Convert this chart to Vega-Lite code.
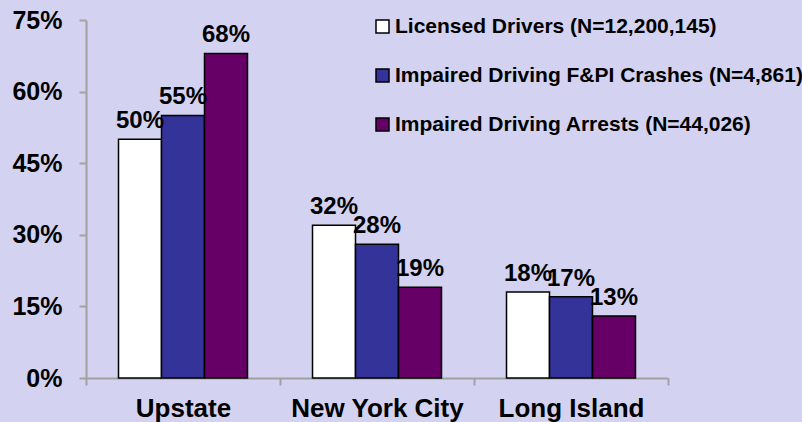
{
  "$schema": "https://vega.github.io/schema/vega-lite/v6.json",
  "width": 582,
  "height": 358,
  "autosize": {"type": "none"},
  "padding": {"left": 86, "top": 20, "right": 134, "bottom": 44},
  "background": "#D3D3F1",
  "config": {
    "view": {"stroke": null},
    "font": "Liberation Sans",
    "axis": {"grid": false, "domainColor": "#A0A0A0", "domainWidth": 2, "tickColor": "#A0A0A0", "tickWidth": 2, "tickSize": 7, "labelColor": "black", "labelFont": "Liberation Sans", "labelFontWeight": "bold"}
  },
  "data": {
    "values": [
      {"region": "Upstate", "series": "Licensed Drivers (N=12,200,145)", "value": 0.50},
      {"region": "Upstate", "series": "Impaired Driving F&PI Crashes (N=4,861)", "value": 0.55},
      {"region": "Upstate", "series": "Impaired Driving Arrests (N=44,026)", "value": 0.68},
      {"region": "New York City", "series": "Licensed Drivers (N=12,200,145)", "value": 0.32},
      {"region": "New York City", "series": "Impaired Driving F&PI Crashes (N=4,861)", "value": 0.28},
      {"region": "New York City", "series": "Impaired Driving Arrests (N=44,026)", "value": 0.19},
      {"region": "Long Island", "series": "Licensed Drivers (N=12,200,145)", "value": 0.18},
      {"region": "Long Island", "series": "Impaired Driving F&PI Crashes (N=4,861)", "value": 0.17},
      {"region": "Long Island", "series": "Impaired Driving Arrests (N=44,026)", "value": 0.13}
    ]
  },
  "encoding": {
    "x": {
      "field": "region", "type": "nominal", "sort": ["Upstate", "New York City", "Long Island"],
      "scale": {"paddingInner": 0, "paddingOuter": 0},
      "axis": {"title": null, "labelAngle": 0, "labelFontSize": 26, "labelPadding": 10, "tickBand": "extent"}
    },
    "xOffset": {
      "field": "series", "type": "nominal",
      "sort": ["Licensed Drivers (N=12,200,145)", "Impaired Driving F&PI Crashes (N=4,861)", "Impaired Driving Arrests (N=44,026)"],
      "scale": {"paddingInner": 0, "paddingOuter": 0.756}
    },
    "y": {
      "field": "value", "type": "quantitative",
      "scale": {"domain": [0, 0.75], "nice": false},
      "axis": {"title": null, "values": [0, 0.15, 0.3, 0.45, 0.6, 0.75], "format": ".0%", "labelFontSize": 25, "labelPadding": 17}
    }
  },
  "layer": [
    {
      "mark": {"type": "bar", "stroke": "black", "strokeWidth": 1.5},
      "encoding": {
        "color": {
          "field": "series", "type": "nominal",
          "scale": {
            "domain": ["Licensed Drivers (N=12,200,145)", "Impaired Driving F&PI Crashes (N=4,861)", "Impaired Driving Arrests (N=44,026)"],
            "range": ["#FFFFFF", "#333399", "#660066"]
          },
          "legend": {
            "title": null, "orient": "none", "legendX": 286, "legendY": -4,
            "symbolType": "square", "symbolSize": 169, "symbolStrokeColor": "black", "symbolStrokeWidth": 1.5,
            "labelFontSize": 21, "labelFontWeight": "bold", "labelColor": "black", "labelFont": "Liberation Sans",
            "labelOffset": 2, "rowPadding": 27, "padding": 0, "labelLimit": 500
          }
        }
      }
    },
    {
      "mark": {"type": "text", "baseline": "alphabetic", "dy": -11, "fontSize": 24, "fontWeight": "bold", "color": "black"},
      "encoding": {
        "text": {"field": "value", "type": "quantitative", "format": ".0%"}
      }
    }
  ]
}
